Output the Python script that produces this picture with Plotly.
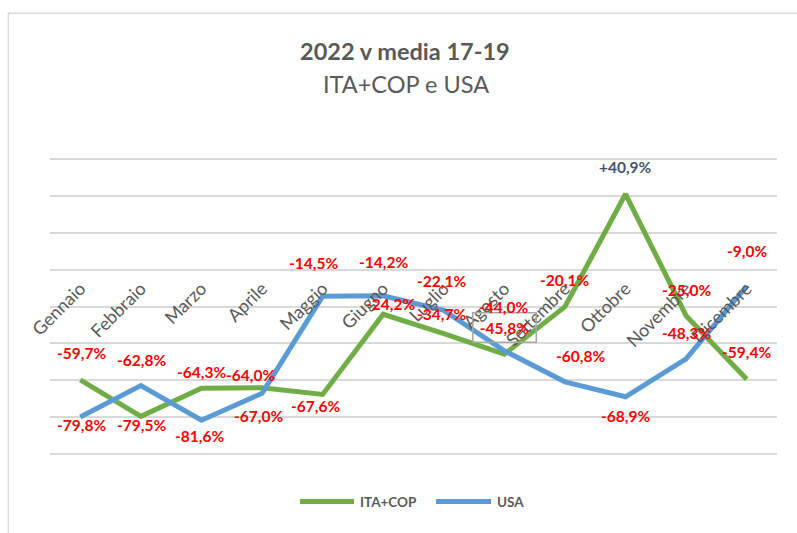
import plotly.graph_objects as go

months = ["Gennaio", "Febbraio", "Marzo", "Aprile", "Maggio", "Giugno",
          "Luglio", "Agosto", "Settembre", "Ottobre", "Novembre", "Dicembre"]
ita_cop = [-59.7, -79.5, -64.3, -64.0, -67.6, -24.2, -34.7, -45.8, -20.1, 40.9, -25.0, -59.4]
usa = [-79.8, -62.8, -81.6, -67.0, -14.5, -14.2, -22.1, -44.0, -60.8, -68.9, -48.3, -9.0]

# label offsets in pixels (dx, dy with dy positive = downwards)
ita_off = [(1, -27), (1, 9), (0, -16), (-12, -13), (-7, 12), (7, -10),
           (-2, -20), (0, -27), (0, -27), (0, -27), (0, -26), (0, -27)]
usa_off = [(1, 8), (1, -26), (-2, 16), (-4, 23), (-9, -33), (0, -34),
           (-2, -29), (-1, -44), (16, -26), (0, 19), (0, -26), (0, -35)]

GREEN = "#70ad47"
BLUE = "#5b9bd5"
GRAY = "#595959"
RED = "#ff0000"
FONT = "Lato, sans-serif"

Y_RANGE = [-101.5, 61.5]
W, H = 797, 533
ML, MR, MT, MB = 50, 20, 156, 76
PW, PH = W - ML - MR, H - MT - MB


def px_x(p):
    return (p - ML) / PW


def px_y(p):
    return (H - MB - p) / PH


def fmt(v):
    s = f"{v:+.1f}%" if v > 0 else f"{v:.1f}%"
    return s.replace(".", ",")


fig = go.Figure()
fig.add_trace(go.Scatter(x=months, y=ita_cop, mode="lines", name="ITA+COP",
                         line=dict(color=GREEN, width=5), hoverinfo="skip"))
fig.add_trace(go.Scatter(x=months, y=usa, mode="lines", name="USA",
                         line=dict(color=BLUE, width=5), hoverinfo="skip"))

LBL = 15.5
annotations = []
for i, m in enumerate(months):
    v = ita_cop[i]
    dx, dy = ita_off[i]
    ann = dict(x=m, y=v, xref="x", yref="y", text=f"<b>{fmt(v)}</b>", showarrow=False,
               xshift=dx, yshift=-dy,
               font=dict(family=FONT, size=LBL, color="#44546a" if v > 0 else RED))
    if m == "Agosto":
        ann.update(bordercolor="#a6a6a6", borderwidth=1.5, borderpad=5, width=52)
    annotations.append(ann)
for i, m in enumerate(months):
    v = usa[i]
    dx, dy = usa_off[i]
    annotations.append(dict(x=m, y=v, xref="x", yref="y", text=f"<b>{fmt(v)}</b>",
                            showarrow=False, xshift=dx, yshift=-dy,
                            font=dict(family=FONT, size=LBL, color=RED)))

# title & subtitle
annotations.append(dict(x=px_x(405), y=px_y(51), xref="paper", yref="paper", showarrow=False,
                        xanchor="center", yanchor="middle",
                        text="<b>2022 v media 17-19</b>",
                        font=dict(family=FONT, size=23.5, color=GRAY)))
annotations.append(dict(x=px_x(406), y=px_y(84), xref="paper", yref="paper", showarrow=False,
                        xanchor="center", yanchor="middle",
                        text="ITA+COP e USA",
                        font=dict(family=FONT, size=23.5, color=GRAY)))

# manual legend
leg_y = px_y(501.5)
annotations.append(dict(x=px_x(358), y=leg_y, xref="paper", yref="paper", showarrow=False,
                        xanchor="left", yanchor="middle", text="<b>ITA+COP</b>",
                        font=dict(family=FONT, size=13.5, color=GRAY)))
annotations.append(dict(x=px_x(495), y=leg_y, xref="paper", yref="paper", showarrow=False,
                        xanchor="left", yanchor="middle", text="<b>USA</b>",
                        font=dict(family=FONT, size=13.5, color=GRAY)))

shapes = [
    dict(type="line", xref="paper", yref="paper", x0=px_x(300), x1=px_x(354), y0=leg_y, y1=leg_y,
         line=dict(color=GREEN, width=5)),
    dict(type="line", xref="paper", yref="paper", x0=px_x(436), x1=px_x(491), y0=leg_y, y1=leg_y,
         line=dict(color=BLUE, width=5)),
    dict(type="rect", xref="paper", yref="paper", x0=px_x(8.3), x1=px_x(820), y0=px_y(560),
         y1=px_y(13.3), line=dict(color="#d9d9d9", width=1.5), layer="below"),
]

fig.update_layout(
    width=W, height=H,
    margin=dict(l=ML, r=MR, t=MT, b=MB),
    paper_bgcolor="white", plot_bgcolor="white",
    showlegend=False,
    annotations=annotations,
    shapes=shapes,
    xaxis=dict(type="category", range=[-0.5, 11.5], anchor="free",
               position=(0 - Y_RANGE[0]) / (Y_RANGE[1] - Y_RANGE[0]),
               automargin=False,
               showgrid=False, showline=False, zeroline=False, ticks="",
               tickangle=-45, ticklabelstandoff=4,
               tickfont=dict(family=FONT, size=18, color=GRAY)),
    yaxis=dict(range=Y_RANGE, tick0=0, dtick=20, showticklabels=False, automargin=False,
               showgrid=True, gridcolor="#d9d9d9", gridwidth=1.5, zeroline=False,
               showline=False, ticks=""),
)

fig.write_html("out.html", config={"displayModeBar": False},
               post_script="document.body.style.margin='0';document.body.style.overflow='hidden';")
